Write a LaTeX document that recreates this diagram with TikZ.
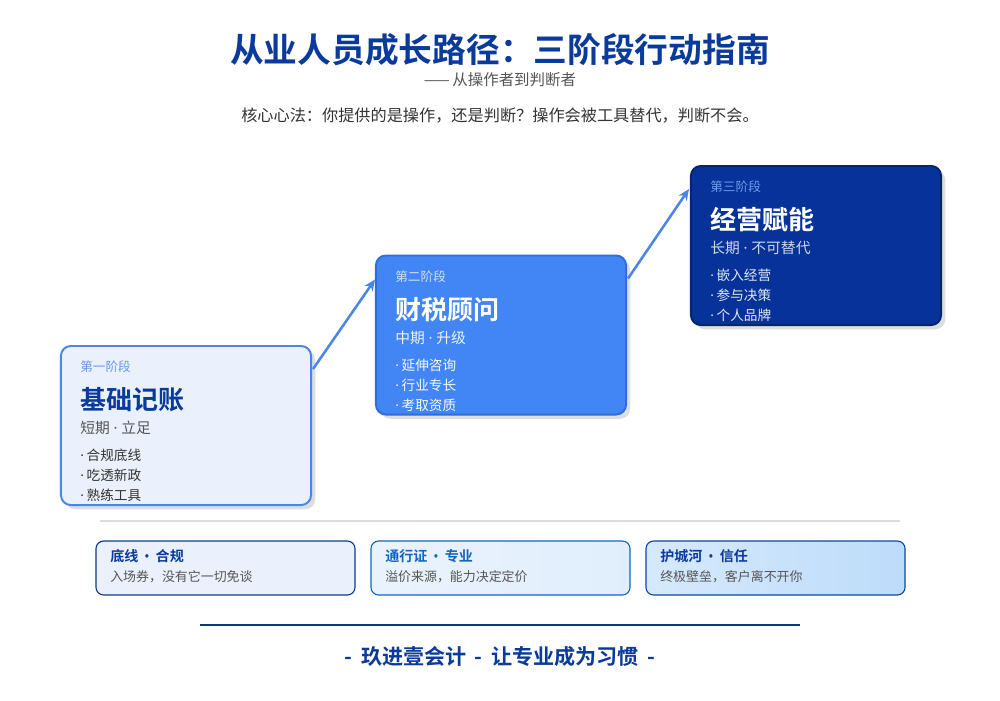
\documentclass[tikz,border=0pt]{standalone}
\usepackage{fontspec}
\setmainfont{Noto Sans CJK SC}[BoldFont={Noto Sans CJK SC Bold}]
\newfontfamily\latinf{Noto Sans}
\usetikzlibrary{arrows.meta,shadows,calc}
\newcommand{\mdot}{{\latinf\ ·\ }}
\newcommand{\bdot}{{\latinf·}\hspace{0.2em}}
\newcommand{\tdot}{{\latinf\ \,•\,\ }}
\definecolor{navy}{HTML}{0A3A9A}
\definecolor{gtext}{HTML}{555555}
\definecolor{dtext}{HTML}{333333}
\definecolor{cAfill}{HTML}{EAF1FC}
\definecolor{cAline}{HTML}{4A86E8}
\definecolor{cBfill}{HTML}{4285F4}
\definecolor{cBline}{HTML}{2E6FD9}
\definecolor{cCfill}{HTML}{07329A}
\definecolor{cCline}{HTML}{05256F}
\definecolor{arrowc}{HTML}{4A86E8}
\definecolor{boxAline}{HTML}{0A3A8A}
\definecolor{boxBline}{HTML}{1565C0}
\definecolor{boxBtitle}{HTML}{1565C0}
\definecolor{boxCline}{HTML}{0D47A1}
\definecolor{boxCtitle}{HTML}{0D3A9A}
\definecolor{sepc}{HTML}{DDDDDD}
\definecolor{footline}{HTML}{0D3A7A}
\definecolor{bBl}{HTML}{EAF3FD}
\definecolor{bBr}{HTML}{E0EEFC}
\definecolor{bcl}{HTML}{D6E9FC}
\definecolor{bcr}{HTML}{BDDCFA}
\tikzset{
  card/.style={rectangle, rounded corners=7pt, line width=1.4pt, minimum width=6.25cm, minimum height=3.975cm, inner sep=0pt,
    drop shadow={opacity=1, fill=black!13, shadow xshift=3pt, shadow yshift=-3pt}},
  clabel/.style={anchor=west, inner sep=0pt, font=\fontsize{9}{10}\selectfont},
  ctitle/.style={anchor=west, inner sep=0pt, font=\fontsize{18.5}{20}\selectfont\bfseries},
  csub/.style={anchor=west, inner sep=0pt, font=\fontsize{10.5}{11}\selectfont},
  cbul/.style={anchor=west, inner sep=0pt, font=\fontsize{9.7}{10}\selectfont},
  flow/.style={draw=arrowc, line width=1.8pt, -{Stealth[length=8pt,width=7pt]}},
  tbox/.style={rectangle, rounded corners=5.5pt, line width=0.8pt, minimum width=6.475cm, minimum height=1.35cm, inner sep=0pt},
  btitle/.style={anchor=west, inner sep=0pt, font=\fontsize{10}{11}\selectfont\bfseries},
  bdesc/.style={anchor=west, inner sep=0pt, text=gtext, font=\fontsize{9.2}{10}\selectfont},
}
\begin{document}
\begin{tikzpicture}[x=0.025cm,y=-0.025cm]
\useasboundingbox[fill=white] (0,0) rectangle (1000,700);

% header
\node[text=navy, font=\fontsize{24}{26}\selectfont\bfseries] (title) at (500,50) {从业人员成长路径：三阶段行动指南};
\node[text=gtext, font=\fontsize{11}{12}\selectfont] (subtitle) at (500,80) {——\,从操作者到判断者};
\node[text=dtext, font=\fontsize{11.5}{12}\selectfont] (core) at (500,116) {核心心法：你提供的是操作，还是判断？操作会被工具替代，判断不会。};

% cards
\node[card, fill=cAfill, draw=cAline] (c1) at (186,425.5) {};
\node[card, fill=cBfill, draw=cBline] (c2) at (501,335) {};
\node[card, fill=cCfill, draw=cCline] (c3) at (816,245.5) {};

% card 1 text
\node[clabel, text=cAline!85] (c1l) at (80,367) {第一阶段};
\node[ctitle, text=navy] (c1t) at (80,400) {基础记账};
\node[csub, text=gtext] (c1s) at (80,428) {短期\mdot 立足};
\node[cbul, text=dtext] (c1a) at (80,455) {\bdot 合规底线};
\node[cbul, text=dtext] (c1b) at (80,475) {\bdot 吃透新政};
\node[cbul, text=dtext] (c1c) at (80,495) {\bdot 熟练工具};

% card 2 text
\node[clabel, text=white!75!cBfill] (c2l) at (395,277) {第二阶段};
\node[ctitle, text=white] (c2t) at (395,310) {财税顾问};
\node[csub, text=white!90!cBfill] (c2s) at (395,338) {中期\mdot 升级};
\node[cbul, text=white!95!cBfill] (c2a) at (395,365) {\bdot 延伸咨询};
\node[cbul, text=white!95!cBfill] (c2b) at (395,385) {\bdot 行业专长};
\node[cbul, text=white!95!cBfill] (c2c) at (395,405) {\bdot 考取资质};

% card 3 text
\node[clabel, text=cAline!80!white] (c3l) at (710,187) {第三阶段};
\node[ctitle, text=white] (c3t) at (710,220) {经营赋能};
\node[csub, text=white!80!cCfill] (c3s) at (710,248) {长期\mdot 不可替代};
\node[cbul, text=white!88!cCfill] (c3a) at (710,275) {\bdot 嵌入经营};
\node[cbul, text=white!88!cCfill] (c3b) at (710,295) {\bdot 参与决策};
\node[cbul, text=white!88!cCfill] (c3c) at (710,315) {\bdot 个人品牌};

% arrows
\coordinate (a1s) at ($(c1.north east)+(1,24)$);
\coordinate (a1e) at ($(c2.north west)+(0,25)$);
\coordinate (a2s) at ($(c2.north east)+(1,24)$);
\coordinate (a2e) at ($(c3.north west)+(-1,24)$);
\draw[flow] (a1s) -- (a1e);
\draw[flow] (a2s) -- (a2e);

% separator
\coordinate (sepL) at (100,521);
\coordinate (sepR) at (900,521);
\draw[sepc, line width=1.4pt] (sepL) -- (sepR);

% bottom boxes
\node[tbox, left color=bBl, right color=bBr, draw=boxBline] (b2) at (500.5,568) {};
\node[tbox, fill=cAfill, draw=boxAline] (b1) at (225.5,568) {};
\node[tbox, left color=bcl, right color=bcr, draw=boxCline] (b3) at (775.5,568) {};

\node[btitle, text=navy] (b1t) at (110,556) {底线\tdot 合规};
\node[bdesc] (b1d) at (110,577) {入场券，没有它一切免谈};
\node[btitle, text=boxBtitle] (b2t) at (385,556) {通行证\tdot 专业};
\node[bdesc] (b2d) at (385,577) {溢价来源，能力决定定价};
\node[btitle, text=boxCtitle] (b3t) at (660,556) {护城河\tdot 信任};
\node[bdesc] (b3d) at (660,577) {终极壁垒，客户离不开你};

% footer
\coordinate (flL) at (200,625);
\coordinate (flR) at (800,625);
\draw[footline, line width=0.8pt] (flL) -- (flR);
\node[text=navy, font=\fontsize{15}{16}\selectfont\bfseries] (footer) at (500,657) {-\hspace{0.4em}玖进壹会计\hspace{0.4em}-\hspace{0.4em}让专业成为习惯\hspace{0.4em}-};
\end{tikzpicture}
\end{document}
